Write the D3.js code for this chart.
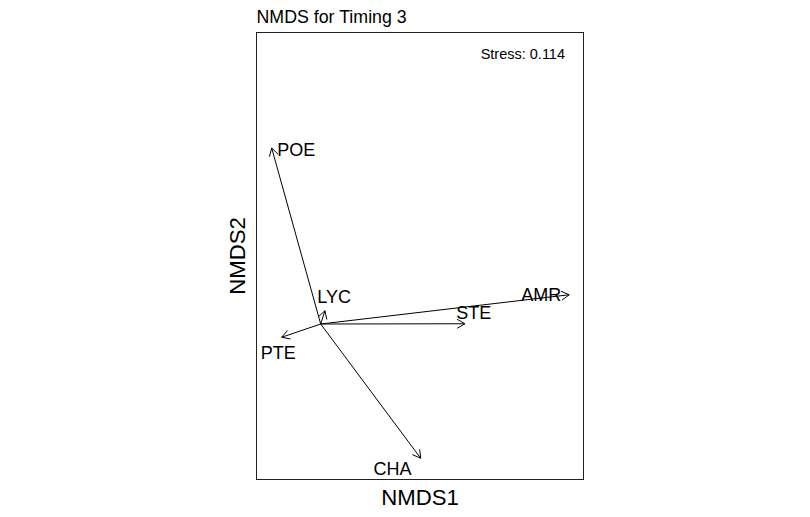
<!DOCTYPE html>
<html>
<head>
<meta charset="utf-8">
<script src="https://cdn.jsdelivr.net/npm/d3@7"></script>
<style>
  html, body { margin: 0; padding: 0; background: #fff; }
  svg { display: block; font-family: "Liberation Sans", Arial, sans-serif; }
</style>
</head>
<body>
<svg id="chart" width="810" height="517"></svg>
<script>
// ---- data ----
const species = ["POE", "LYC", "PTE", "STE", "AMR", "CHA"];
const arrowX = [-0.196, 0.017, -0.156, 0.577, 0.994, 0.400];
const arrowY = [0.704, 0.053, -0.053, 0.001, 0.117, -0.537];
const labelX = [-0.098, 0.054, -0.170, 0.612, 0.882, 0.287];
const labelY = [0.696, 0.109, -0.114, 0.047, 0.116, -0.577];
const xDomain = [-0.2568, 1.0512];
const yDomain = [-0.622, 1.166];
const titleText = "NMDS for Timing 3";
const stressText = "Stress: 0.114";
const xLabel = "NMDS1";
const yLabel = "NMDS2";

// ---- layout ----
const svg = d3.select("#chart");
const box = { left: 256.5, right: 583.5, top: 32.5, bottom: 479.5 };
const x = d3.scaleLinear().domain(xDomain).range([box.left, box.right]);
const y = d3.scaleLinear().domain(yDomain).range([box.bottom, box.top]);

// plot box
svg.append("rect")
  .attr("x", box.left).attr("y", box.top)
  .attr("width", box.right - box.left).attr("height", box.bottom - box.top)
  .attr("fill", "none").attr("stroke", "#222").attr("stroke-width", 1);

// title
svg.append("text").attr("x", box.left).attr("y", 22.5)
  .attr("font-size", 17.8).attr("fill", "#000").text(titleText);

// stress
svg.append("text").attr("x", 565).attr("y", 58.5)
  .attr("text-anchor", "end").attr("font-size", 14.5).attr("fill", "#000").text(stressText);

// axis labels
svg.append("text").attr("x", (box.left + box.right) / 2).attr("y", 505)
  .attr("text-anchor", "middle").attr("font-size", 22.2).attr("fill", "#000").text(xLabel);
svg.append("text")
  .attr("transform", `translate(244.5, ${(box.top + box.bottom) / 2}) rotate(-90)`)
  .attr("text-anchor", "middle").attr("font-size", 22.2).attr("fill", "#000").text(yLabel);

// arrows
const data = species.map((s, i) => ({ s, ax: arrowX[i], ay: arrowY[i], lx: labelX[i], ly: labelY[i] }));
const headLen = 9, headAng = Math.PI / 6;
const g = svg.append("g");
data.forEach(d => {
  const x0 = x(0), y0 = y(0), x1 = x(d.ax), y1 = y(d.ay);
  const ang = Math.atan2(y1 - y0, x1 - x0);
  const p = d3.path();
  p.moveTo(x0, y0); p.lineTo(x1, y1);
  p.moveTo(x1 - headLen * Math.cos(ang - headAng), y1 - headLen * Math.sin(ang - headAng));
  p.lineTo(x1, y1);
  p.lineTo(x1 - headLen * Math.cos(ang + headAng), y1 - headLen * Math.sin(ang + headAng));
  g.append("path").attr("d", p.toString())
    .attr("fill", "none").attr("stroke", "#000").attr("stroke-width", 1);
});
g.selectAll("text.lab").data(data).join("text")
  .attr("class", "lab")
  .attr("x", d => x(d.lx)).attr("y", d => y(d.ly))
  .attr("dy", "0.36em")
  .attr("text-anchor", "middle").attr("font-size", 18).attr("fill", "#000")
  .text(d => d.s);
</script>
</body>
</html>
